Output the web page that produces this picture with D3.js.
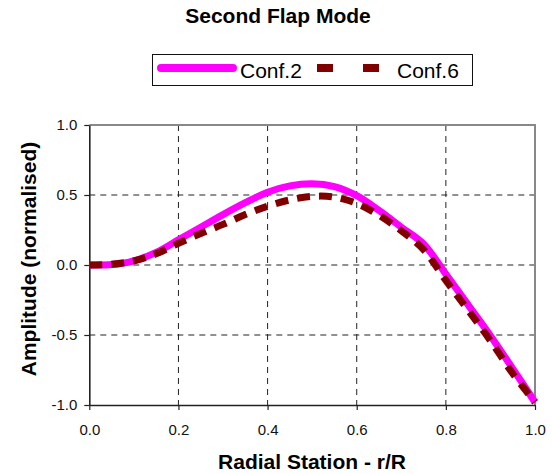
<!DOCTYPE html>
<html><head><meta charset="utf-8">
<script src="https://cdn.jsdelivr.net/npm/d3@7"></script>
<style>body{margin:0;background:#fff}svg{display:block;font-family:Arial,"Liberation Sans",sans-serif}</style>
</head><body><svg id="c" width="552" height="474"></svg>
<script>
const rStations = [0,0.05,0.1,0.15,0.2,0.25,0.3,0.35,0.4,0.45,0.5,0.55,0.6,0.65,0.7,0.75,0.8,0.85,0.9,0.95,1.0];
const conf2 = [0,0.003,0.03,0.09,0.18,0.27,0.36,0.445,0.52,0.565,0.58,0.56,0.495,0.39,0.27,0.15,-0.065,-0.285,-0.505,-0.74,-0.98];
const conf6 = [0,0.005,0.03,0.08,0.155,0.225,0.29,0.36,0.42,0.465,0.49,0.485,0.44,0.355,0.245,0.11,-0.11,-0.323,-0.54,-0.775,-0.98];
const xTicks = [0,0.2,0.4,0.6,0.8,1.0];
const yTicks = [-1,-0.5,0,0.5,1];
const seriesNames = ["Conf.2","Conf.6"];

const svg = d3.select("#c");
const L=89.3, R=535, T=125, B=405;
const x = d3.scaleLinear().domain([0,1]).range([L,R]);
const y = d3.scaleLinear().domain([-1,1]).range([B,T]);

// grid
const g = svg.append("g");
g.selectAll(".gx").data(xTicks.filter(d=>d>0&&d<1)).enter().append("line")
  .attr("x1",d=>x(d)).attr("x2",d=>x(d)).attr("y1",T).attr("y2",B)
  .attr("stroke","#222").attr("stroke-width",1).attr("stroke-dasharray","6,5");
g.selectAll(".gy").data(yTicks.filter(d=>d>-1&&d<1)).enter().append("line")
  .attr("x1",L).attr("x2",R).attr("y1",d=>y(d)).attr("y2",d=>y(d))
  .attr("stroke","#222").attr("stroke-width",1).attr("stroke-dasharray","6,5");

// top/right border
svg.append("path").attr("d",`M${L},${T}H${R}V${B}`).attr("fill","none").attr("stroke","#888").attr("stroke-width",2);

// axes
const xAxis = d3.axisBottom(x).tickValues(xTicks).tickFormat(d3.format(".1f")).tickSize(5).tickSizeOuter(0);
const yAxis = d3.axisLeft(y).tickValues(yTicks).tickFormat(d3.format(".1f")).tickSize(5).tickSizeOuter(0);
const gx = svg.append("g").attr("transform",`translate(0,${B})`).call(xAxis);
const gy = svg.append("g").attr("transform",`translate(${L},0)`).call(yAxis);
[gx,gy].forEach(a=>{
  a.select(".domain").attr("stroke","#222").attr("stroke-width",1.6);
  a.selectAll(".tick line").attr("stroke","#222").attr("stroke-width",1.2);
  a.selectAll(".tick text").attr("font-size","15px").attr("fill","#111").attr("font-family","Arial, Liberation Sans, sans-serif");
});
gx.selectAll(".tick text").attr("dy",null).attr("y",30);
gy.selectAll(".tick text").attr("x",-12).text(d=>d3.format(".1f")(d).replace("−","-"));

// lines
const line = d3.line().x((d,i)=>x(rStations[i])).y(d=>y(d)).curve(d3.curveCatmullRom.alpha(0.5));
svg.append("path").datum(conf2).attr("d",line).attr("fill","none")
  .attr("stroke","#ff00ff").attr("stroke-width",7).attr("stroke-linejoin","round");
svg.append("path").datum(conf6).attr("d",line).attr("fill","none")
  .attr("stroke","#800000").attr("stroke-width",7).attr("stroke-dasharray","13,9");

// title and labels
svg.append("text").attr("x",278).attr("y",23).attr("text-anchor","middle")
  .attr("font-size","21px").attr("font-weight","bold").text("Second Flap Mode");
svg.append("text").attr("x",312).attr("y",469).attr("text-anchor","middle")
  .attr("font-size","21px").attr("font-weight","bold").text("Radial Station - r/R");
svg.append("text").attr("transform","translate(36,259) rotate(-90)").attr("text-anchor","middle")
  .attr("font-size","21px").attr("font-weight","bold").text("Amplitude (normalised)");

// legend
const lg = svg.append("g");
lg.append("rect").attr("x",152.5).attr("y",54.5).attr("width",320).attr("height",31)
  .attr("fill","#fff").attr("stroke","#111").attr("stroke-width",1);
lg.append("line").attr("x1",161).attr("x2",233).attr("y1",68).attr("y2",68)
  .attr("stroke","#ff00ff").attr("stroke-width",8).attr("stroke-linecap","round");
lg.append("text").attr("x",240).attr("y",78).attr("font-size","21px").text(seriesNames[0]);
lg.append("line").attr("x1",317).attr("x2",397).attr("y1",68).attr("y2",68)
  .attr("stroke","#800000").attr("stroke-width",8).attr("stroke-dasharray","16,30");
lg.append("text").attr("x",397).attr("y",78).attr("font-size","21px").text(seriesNames[1]);
</script></body></html>
